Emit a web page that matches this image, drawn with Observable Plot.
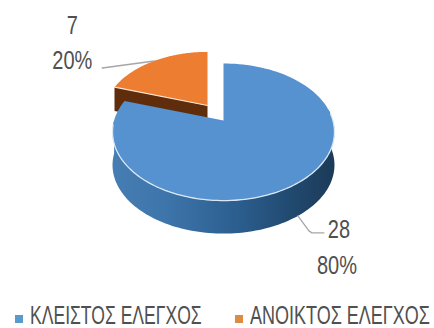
<!DOCTYPE html>
<html>
<head>
<meta charset="utf-8">
<script src="https://cdn.jsdelivr.net/npm/d3@7"></script>
<script src="https://cdn.jsdelivr.net/npm/@observablehq/plot@0.6"></script>
<style>
  html, body { margin: 0; background: #fff; }
  svg { display: block; }
  #legend { position: relative; height: 28px; overflow: hidden; font: 25px "Liberation Sans", sans-serif; color: #505050; }
  #legend span { position: absolute; top: 2px; line-height: 26px; white-space: nowrap; transform-origin: 0 50%; }
  #legend i { position: absolute; top: 15px; width: 8px; height: 8px; }
</style>
</head>
<body>
<div id="chart"></div>
<div id="legend"></div>
<script>
// Inspection outcomes
const categories = ["ΚΛΕΙΣΤΟΣ ΕΛΕΓΧΟΣ", "ΑΝΟΙΚΤΟΣ ΕΛΕΓΧΟΣ"];
const counts = [28, 7];
const shares = ["80%", "20%"];
const colors = ["#5592cf", "#ed7d31"];
const legendX = [30, 250];
const legendWidth = [172, 180];

// Layout of the tilted pie, in pixels
const W = 434, H = 300, CX = 223, CY = 120, UNIT = 109.4;
const TILT = 0.609, PERSP = 0.168, DEPTH = 33 / UNIT;
const SHIFT = [-16 / UNIT, -15 / UNIT], SMALL = 0.94;
const NARROW = 0.8;

const total = d3.sum(counts);
const TAU = Math.PI * 2;

// Angle (clockwise from the back of the disc) to plot units, with foreshortening
function project(a, scale = 1, shift = [0, 0], drop = 0) {
  const u = Math.sin(a), v = -Math.cos(a), w = 1 - PERSP * v;
  return {x: scale * u / w + shift[0], y: scale * TILT * v / w + shift[1] + drop};
}
const sweep = (a0, a1, ...rest) =>
  d3.range(0, 121).map(i => project(a0 + (a1 - a0) * i / 120, ...rest));

const blueEnd = TAU * counts[0] / total;
const blueMid = blueEnd / 2;
const orangeMid = (blueEnd + TAU) / 2;
const center = {x: 0, y: 0};
const orangeTip = {x: SHIFT[0], y: SHIFT[1]};

// Widest points of the disc outline bound the visible side wall
const wallEnd = TAU - Math.acos(-PERSP);
const blueWall = [...sweep(Math.PI / 2 - 0.17, wallEnd + 0.17), ...sweep(wallEnd + 0.17, Math.PI / 2 - 0.17, 1, [0, 0], DEPTH)];
const blueTop = [center, ...sweep(0, blueEnd), center];
const orangeTop = [orangeTip, ...sweep(blueEnd, TAU, SMALL, SHIFT), orangeTip];
const orangeCorner = project(blueEnd, SMALL, SHIFT);
const orangeCut = [orangeTip, orangeCorner, {x: orangeCorner.x, y: orangeCorner.y + 24 / UNIT}, {x: orangeTip.x, y: orangeTip.y + 24 / UNIT}];
const blueRim = sweep(Math.PI / 2 - 0.1, wallEnd + 0.1);

// Leader lines run from each slice's mid angle out to its labels
const px = v => v / UNIT;
const blueAnchor = project(blueMid, 1, [0, 0], DEPTH);
const orangeAnchor = project(orangeMid, SMALL, SHIFT);
const blueLeader = [blueAnchor, {x: blueAnchor.x + px(11), y: blueAnchor.y + px(15)}, {x: blueAnchor.x + px(14), y: blueAnchor.y + px(17)}, {x: blueAnchor.x + px(26), y: blueAnchor.y + px(17)}];
const orangeLeader = [orangeAnchor, {x: orangeAnchor.x - px(52), y: orangeAnchor.y + px(7)}];

const labels = [
  {x: blueAnchor.x + px(41), y: blueAnchor.y + px(14), text: String(counts[0])},
  {x: blueAnchor.x + px(39), y: blueAnchor.y + px(50), text: shares[0]},
  {x: orangeAnchor.x - px(82), y: orangeAnchor.y - px(35), text: String(counts[1])},
  {x: orangeAnchor.x - px(82), y: orangeAnchor.y, text: shares[1]}
];

// Gradient painted on the side wall
const wallGradient = () => {
  const defs = d3.create("svg:defs");
  const g = defs.append("linearGradient").attr("id", "wallShade").attr("x1", 0).attr("x2", 1).attr("y1", 0).attr("y2", 0);
  [[0, "#467db2"], [0.25, "#3d74a9"], [0.55, "#2c5f90"], [0.8, "#214a70"], [1, "#1c3a58"]]
    .forEach(([o, c]) => g.append("stop").attr("offset", o).attr("stop-color", c));
  return defs.node();
};

const chart = Plot.plot({
  width: W,
  height: H,
  margin: 0,
  x: {domain: [-CX / UNIT, (W - CX) / UNIT], range: [0, W], axis: null},
  y: {domain: [-CY / UNIT, (H - CY) / UNIT], range: [0, H], axis: null},
  style: {background: "#fff"},
  marks: [
    wallGradient,
    Plot.line(orangeCut, {x: "x", y: "y", fill: "#5f2c0c"}),
    Plot.line(orangeTop, {x: "x", y: "y", fill: colors[1]}),
    Plot.line([orangeCorner, orangeTip], {x: "x", y: "y", stroke: "#fbe3d2", strokeWidth: 1.2}),
    Plot.line(blueWall, {x: "x", y: "y", fill: "url(#wallShade)"}),
    Plot.line(blueTop, {x: "x", y: "y", fill: colors[0]}),
    Plot.line(blueRim, {x: "x", y: "y", stroke: "#dce9f5", strokeWidth: 1.3}),
    Plot.line(blueLeader, {x: "x", y: "y", stroke: "#a6a6a6", strokeWidth: 1.3}),
    Plot.line(orangeLeader, {x: "x", y: "y", stroke: "#a6a6a6", strokeWidth: 1.5}),
    Plot.text(labels, {
      x: "x", y: "y", text: "text",
      fontSize: 25,
      fontFamily: '"Liberation Sans", sans-serif',
      fill: "#505050"
    })
  ]
});
document.getElementById("chart").append(chart);

// The labels are set in a condensed width
chart.querySelectorAll("text").forEach(t => {
  t.setAttribute("textLength", t.getComputedTextLength() * NARROW);
  t.setAttribute("lengthAdjust", "spacingAndGlyphs");
});

// Legend row below the chart
const legend = document.getElementById("legend");
categories.forEach((name, i) => {
  const swatch = document.createElement("i");
  swatch.style.left = (legendX[i] - 15) + "px";
  swatch.style.background = i === 0 ? "#5b9bc9" : "#dd8a45";
  const label = document.createElement("span");
  label.style.left = legendX[i] + "px";
  label.textContent = name;
  legend.append(swatch, label);
  label.style.transform = `scaleX(${legendWidth[i] / label.offsetWidth})`;
});
</script>
</body>
</html>
